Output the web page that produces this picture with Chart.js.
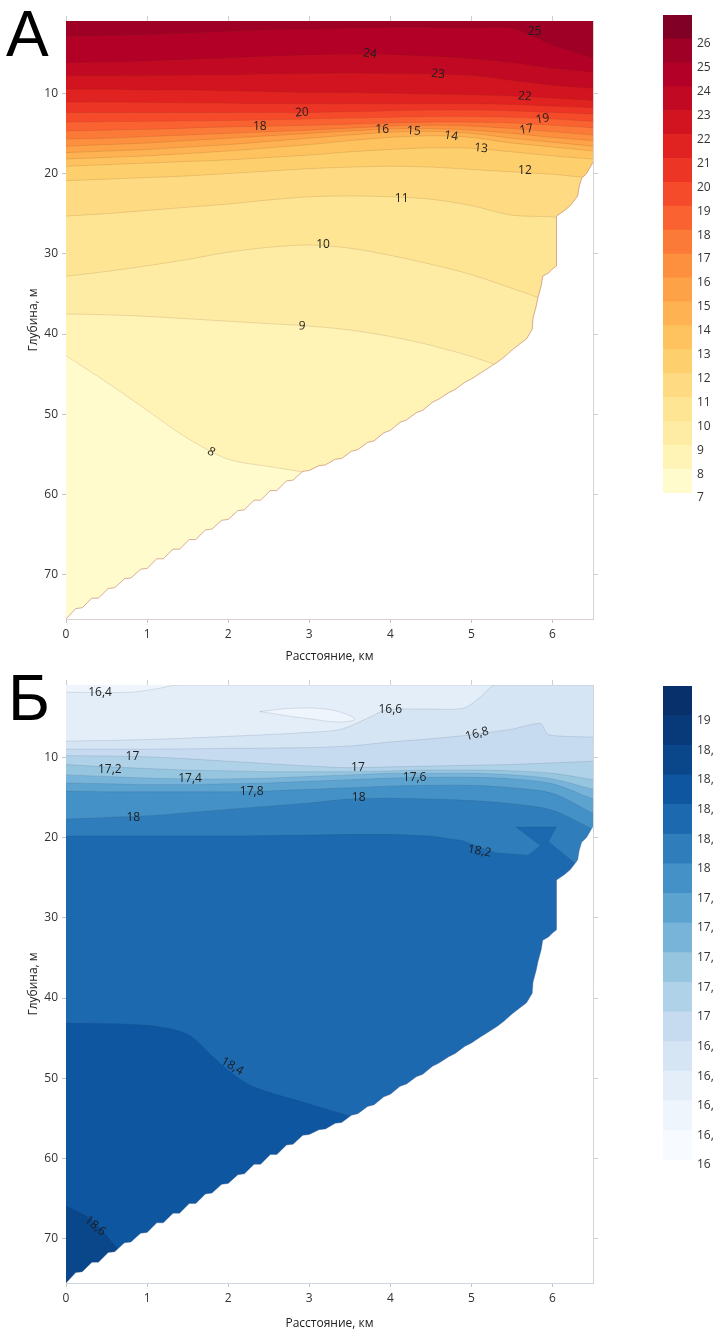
<!DOCTYPE html>
<html>
<head>
<meta charset="utf-8">
<script src="https://cdn.jsdelivr.net/npm/chart.js@4.4.1/dist/chart.umd.min.js"></script>
<style>
html, body { margin: 0; padding: 0; background: #fff; }
.wrap { position: relative; width: 714px; height: 1331px; overflow: hidden; background: #fff; }
canvas { position: absolute; }
.letter { position: absolute; font-family: "Liberation Sans", Arial, sans-serif; font-size: 64px; line-height: 64px; color: #000; }
</style>
</head>
<body>
<div class="wrap">
  <canvas id="plotA" width="640" height="664" style="left:0px;top:0px"></canvas>
  <canvas id="barA" width="120" height="520" style="left:640px;top:0px"></canvas>
  <canvas id="plotB" width="640" height="667" style="left:0px;top:664px"></canvas>
  <canvas id="barB" width="120" height="520" style="left:640px;top:664px"></canvas>
  <div class="letter" style="left:6px;top:2px">А</div>
  <div class="letter" style="left:8px;top:666px">Б</div>
</div>
<script>
// ---- shared axes ----
const DEPTH_MIN = 1;
const DEPTH_MAX = 75.5;
const distKm = [0, 0.5, 1, 1.5, 2, 2.5, 3, 3.5, 4, 4.5, 5, 5.5, 6, 6.5];
const xTicks = [0, 1, 2, 3, 4, 5, 6];
const depthTicks = [10, 20, 30, 40, 50, 60, 70];

// bottom profile (distance, depth)
const bottomX = [0,0.12,0.2,0.32,0.4,0.52,0.6,0.72,0.8,0.92,
  1.0,1.12,1.2,1.32,1.4,1.52,1.6,1.72,1.8,1.92,
  2.0,2.12,2.2,2.32,2.4,2.52,2.6,2.72,2.8,2.92,
  3.0,3.12,3.2,3.32,3.4,3.52,3.6,3.72,3.8,3.92,
  4.0,4.12,4.2,4.32,4.4,4.52,4.6,4.72,4.8,4.92,
  5.0,5.12,5.2,5.32,5.4,5.5,5.6,5.68,5.75,5.76,
  5.8,5.82,5.86,5.88,5.95,6.0,6.05,6.05,6.15,6.22,
  6.28,6.31,6.33,6.36,6.42,6.5];
const bottomDepth = [75.5,74.2,74.1,72.9,72.9,71.7,71.6,70.5,70.4,69.3,
  69.2,68.0,68.0,66.8,66.8,65.6,65.6,64.4,64.3,63.2,
  63.1,62.0,61.9,60.7,60.7,59.5,59.5,58.3,58.2,57.1,
  57.0,56.4,56.3,55.6,55.5,54.6,54.4,53.5,53.3,52.3,
  52.0,51.0,50.7,49.8,49.5,48.5,48.1,47.3,46.9,46.0,
  45.6,44.8,44.3,43.5,42.9,42.0,41.2,40.6,39.4,38.0,
  36.5,35.5,34.0,32.8,32.4,31.9,31.5,25.3,24.6,24.0,
  23.2,22.8,21.6,20.6,20.0,18.6];

// ---- panel A: temperature ----
const bandsA = [7,8,9,10,11,12,13,14,15,16,17,18,19,20,21,22,23,24,25,26];
const colorsA = ['#fffbcc','#fff3b6','#feeca4','#fee594','#fedb82','#fecf6d','#fec35f','#feb252','#fda247','#fd903f',
                 '#fc7a38','#fb6231','#f64b2b','#ec3525','#e02220','#d1141f','#c20923','#b20026','#9e0026','#800026'];
const ticksBarA = [7,8,9,10,11,12,13,14,15,16,17,18,19,20,21,22,23,24,25,26];
const levelsA = [25,24,23,22,21,20,19,18,17,16,15,14,13,12,11,10,9,8];
const isoDepthA = [
  [2.9,2.8,2.7,2.5,2.3,2.1,2.0,1.9,1.8,1.8,1.9,1.9,4.0,5.6],
  [6.2,6.1,6.0,5.8,5.6,5.4,5.25,5.15,5.2,5.4,5.7,6.2,6.9,7.4],
  [7.8,7.8,7.8,7.75,7.7,7.6,7.55,7.5,7.55,7.6,7.8,8.4,9.0,9.4],
  [9.5,9.5,9.6,9.6,9.7,9.8,9.9,9.95,10.0,10.1,10.2,10.35,10.6,10.9],
  [11.1,11.1,11.15,11.2,11.25,11.3,11.3,11.3,11.3,11.3,11.3,11.4,11.6,11.8],
  [12.4,12.4,12.4,12.4,12.4,12.4,12.4,12.3,12.2,12.1,12.1,12.2,12.4,12.6],
  [13.6,13.55,13.5,13.45,13.4,13.3,13.2,13.1,13.0,12.9,12.9,13.0,13.2,13.5],
  [14.7,14.6,14.5,14.35,14.2,14.1,14.0,13.85,13.7,13.6,13.6,13.7,14.0,14.3],
  [15.7,15.6,15.4,15.2,15.0,14.8,14.6,14.35,14.1,14.0,14.1,14.4,14.8,15.2],
  [16.6,16.4,16.2,15.9,15.6,15.3,15.0,14.7,14.45,14.4,14.6,15.0,15.5,15.9],
  [17.4,17.2,17.0,16.7,16.4,16.0,15.6,15.2,14.85,14.75,15.0,15.6,16.1,16.6],
  [18.2,18.0,17.8,17.5,17.2,16.8,16.4,15.9,15.5,15.3,15.5,16.2,16.7,17.2],
  [19.1,18.9,18.7,18.5,18.3,18.0,17.7,17.3,17.0,16.8,16.85,17.3,17.8,18.2],
  [20.9,20.7,20.5,20.3,20.0,19.7,19.4,19.2,19.1,19.2,19.5,19.8,20.1,20.6],
  [25.3,25.0,24.6,24.2,23.8,23.3,22.9,22.8,22.9,23.2,24.0,25.2,25.4,26.0],
  [32.8,32.2,31.5,30.7,29.8,29.2,28.9,29.3,30.2,31.3,32.6,34.3,36.0,37.0],
  [37.5,37.6,37.8,38.1,38.4,38.7,39.0,39.5,40.3,41.4,42.8,44.5,46.0,48.0],
  [42.7,46.0,49.5,53.0,55.6,56.5,57.3,58.0,60.0,62.0,64.0,66.0,68.0,70.0]
];
// [text, distance, depth, rotation deg]
const labelsA = [
  ['25',5.78,2.3,0], ['24',3.75,5.1,8], ['23',4.59,7.6,5], ['22',5.66,10.4,5],
  ['20',2.91,12.4,-5], ['18',2.39,14.1,0], ['19',5.88,13.2,-10], ['17',5.68,14.5,-10],
  ['16',3.9,14.5,0], ['15',4.29,14.7,3], ['14',4.75,15.35,8], ['13',5.12,16.85,5],
  ['12',5.66,19.6,0], ['11',4.14,23.1,0], ['10',3.17,28.9,0], ['9',2.91,39.0,5], ['8',1.79,54.7,30]
];

// ---- panel B ----
const bandsB = [16,16.2,16.4,16.6,16.8,17,17.2,17.4,17.6,17.8,18,18.2,18.4,18.6,18.8,19];
const colorsB = ['#f7fbff','#eef5fc','#e3eef8','#d5e5f4','#c6dbef','#b0d2e8','#95c5df','#78b4d9',
                 '#5ca3cf','#4391c6','#2f7ebb','#1c69af','#0e57a0','#09468a','#083a79','#08306b'];
const ticksBarB = [16,16.2,16.4,16.6,16.8,17,17.2,17.4,17.6,17.8,18,18.2,18.4,18.6,18.8,19];
const levelsB = [16.4,16.6,16.8,17,17.2,17.4,17.6,17.8,18,18.2,18.4,18.6];
const iso164 = [[0,1.9],[0.8,1.9],[1.1,1.5],[1.4,1],[6.5,1]];
const iso166 = [[0,8.0],[1,7.8],[2,7.4],[3,6.9],[3.4,6.5],[3.75,5.0],[3.95,4.1],[4.5,4.0],[4.9,3.9],[5.1,2.6],[5.3,1],[6.5,1]];
const iso168 = [[0,9.0],[1,9.0],[2,8.9],[3,8.8],[3.5,8.6],[4,8.1],[4.5,7.7],[5,7.2],[5.5,6.5],[5.85,5.8],[5.95,7.2],[6.5,7.5]];
const iso170 = [9.8,9.85,9.95,10.2,10.5,10.8,11.1,11.3,11.2,11.1,11.0,10.9,10.7,10.5];
const iso172 = [10.9,11.2,11.4,11.6,11.7,11.8,11.8,11.8,11.7,11.6,11.6,11.7,12.0,12.8];
const iso174 = [12.2,12.4,12.6,12.7,12.7,12.6,12.4,12.2,12.0,12.0,12.0,12.2,12.7,14.0];
const iso176 = [13.2,13.3,13.4,13.4,13.3,13.2,13.0,12.8,12.6,12.5,12.5,12.7,13.3,15.2];
const iso178 = [14.2,14.3,14.3,14.3,14.3,14.2,14.0,13.8,13.6,13.5,13.5,13.8,14.5,17.0];
const iso180 = [17.7,17.5,17.3,16.9,16.5,16.1,15.7,15.2,15.1,15.2,15.4,15.8,16.6,19.0];
const iso182 = [[0,19.8],[1,19.8],[2,19.8],[3,19.7],[3.5,19.6],[4,19.6],[4.5,19.8],[4.9,20.4],[5.1,21.2],[5.3,21.9],
                [5.7,22.2],[5.85,21.0],[5.55,18.7],[6.05,18.7],[5.95,20.5],[6.25,23.0],[6.5,25]];
const iso184 = [[0,43.1],[1,43.4],[1.5,44.5],[1.8,47.2],[2,49],[2.3,51],[2.9,52.9],[3.5,54.7],[4,56],[5,58]];
const iso186 = [[0,65.9],[0.3,67.5],[0.62,71],[0.8,73],[1,75.5]];
const lensB = [[2.39,4.3],[2.8,3.9],[3.2,4.0],[3.45,4.6],[3.56,5.3],[3.35,5.6],[3.0,5.2],[2.7,4.8],[2.39,4.3]];
const labelsB = [
  ['16,4',0.42,1.95,0], ['16,6',4.0,4.0,0], ['16,8',5.07,7.1,-15], ['17',0.82,9.9,0],
  ['17,2',0.54,11.5,0], ['17,4',1.53,12.7,0], ['17,8',2.29,14.3,0], ['18',0.83,17.5,0],
  ['17',3.6,11.3,0], ['17,6',4.3,12.5,0], ['18',3.61,15.0,0], ['18,2',5.1,21.7,10],
  ['18,4',2.05,48.5,30], ['18,6',0.36,68.4,40]
];

Chart.defaults.font.family = '"Open Sans", "DejaVu Sans", sans-serif';
Chart.defaults.font.size = 12;
Chart.defaults.color = '#333';

function onGrid(depths) { return distKm.map((x, j) => ({x: x, y: depths[j]})); }
function fromPairs(pairs) { return pairs.map(p => ({x: p[0], y: p[1]})); }
function commaFmt(v) { return String(Math.round(v * 10) / 10).replace('.', ','); }

const contourLabels = {
  id: 'contourLabels',
  afterDatasetsDraw(chart, args, opts) {
    const ctx = chart.ctx;
    const xs = chart.scales.x, ys = chart.scales.y;
    ctx.save();
    ctx.font = '12px "Open Sans", sans-serif';
    ctx.fillStyle = opts.color;
    ctx.textAlign = 'center';
    ctx.textBaseline = 'middle';
    opts.items.forEach(([t, dx, dd, rot]) => {
      ctx.save();
      ctx.translate(xs.getPixelForValue(dx), ys.getPixelForValue(dd));
      ctx.rotate(rot * Math.PI / 180);
      ctx.fillText(t, 0, 0);
      ctx.restore();
    });
    ctx.restore();
  }
};

function buildPanel(id, cfg) {
  const datasets = [];
  datasets.push({ data: [{x: 0, y: DEPTH_MIN}, {x: 6.5, y: DEPTH_MIN}], backgroundColor: cfg.baseColor,
                  borderWidth: 0, fill: {value: DEPTH_MAX}, order: 100 });
  cfg.isolines.forEach((pts, i) => {
    datasets.push({ data: pts, backgroundColor: cfg.bandColors[i], borderColor: cfg.lineColor, borderWidth: 0.8,
                    fill: {value: DEPTH_MAX}, tension: cfg.tension[i], order: 99 - i });
  });
  (cfg.shapes || []).forEach(s => {
    datasets.push({ data: s.pts, backgroundColor: s.color, borderColor: cfg.lineColor, borderWidth: 0.8,
                    fill: 'shape', tension: 0.4, order: 2 });
  });
  datasets.push({ data: bottomX.map((x, i) => ({x: x, y: bottomDepth[i]})), backgroundColor: '#ffffff',
                  borderColor: cfg.bedColor, borderWidth: 1, fill: {value: DEPTH_MAX}, tension: 0, order: 1 });

  const tickGrid = { drawOnChartArea: false, tickLength: 4, color: '#c4c4c4' };
  return new Chart(document.getElementById(id), {
    type: 'line',
    data: { datasets: datasets },
    options: {
      responsive: false, animation: false, devicePixelRatio: 1,
      layout: { padding: 0 },
      elements: { point: { radius: 0 } },
      plugins: { legend: { display: false }, tooltip: { enabled: false },
                 contourLabels: { items: cfg.labels, color: '#1e1e1e' } },
      scales: {
        x: { type: 'linear', position: 'bottom', min: 0, max: 6.5, z: 1,
             afterBuildTicks: s => { s.ticks = xTicks.map(v => ({value: v})); },
             afterFit: s => { s.height = cfg.bottomH; },
             ticks: { padding: 4, color: '#333', maxRotation: 0, autoSkip: false },
             grid: tickGrid, border: { color: cfg.frameColor },
             title: { display: true, text: 'Расстояние, км', color: '#222', padding: { top: 0, bottom: 0 } } },
        xTop: { type: 'linear', position: 'top', min: 0, max: 6.5, z: 1,
             afterBuildTicks: s => { s.ticks = xTicks.map(v => ({value: v})); },
             afterFit: s => { s.height = 21; },
             ticks: { display: false },
             grid: { drawOnChartArea: false, tickLength: 5, color: '#d0d0d0' }, border: { color: cfg.frameColor } },
        y: { type: 'linear', position: 'left', reverse: true, min: DEPTH_MIN, max: DEPTH_MAX, z: 1,
             afterBuildTicks: s => { s.ticks = depthTicks.map(v => ({value: v})); },
             afterFit: s => { s.width = 66; },
             ticks: { padding: 4, color: '#333', autoSkip: false },
             grid: tickGrid, border: { display: false },
             title: { display: true, text: 'Глубина, м', color: '#222', padding: { top: 26, bottom: 0 } } },
        yRight: { type: 'linear', position: 'right', reverse: true, min: DEPTH_MIN, max: DEPTH_MAX, z: 1,
             afterBuildTicks: s => { s.ticks = depthTicks.map(v => ({value: v})); },
             afterFit: s => { s.width = 47; },
             ticks: { display: false },
             grid: { drawOnChartArea: false, tickLength: 5, color: '#d0d0d0' }, border: { color: cfg.frameColor } }
      }
    },
    plugins: [contourLabels]
  });
}

function buildColorbar(id, bands, step, colors, ticks, padTop, padBottom, fmt) {
  return new Chart(document.getElementById(id), {
    type: 'bar',
    data: {
      labels: ['c'],
      datasets: bands.map((lo, i) => ({ data: [[lo, lo + step]], backgroundColor: colors[i], borderWidth: 0,
                                         grouped: false, barPercentage: 1, categoryPercentage: 1 }))
    },
    options: {
      responsive: false, animation: false, devicePixelRatio: 1,
      layout: { padding: { left: 23, top: padTop, bottom: padBottom, right: 0 } },
      plugins: { legend: { display: false }, tooltip: { enabled: false } },
      scales: {
        x: { display: false },
        y: { position: 'right', min: bands[0], max: bands[bands.length - 1] + step,
             afterBuildTicks: s => { s.ticks = ticks.map(v => ({value: v})); },
             afterFit: s => { s.width = 68; },
             grid: { display: false, drawTicks: false }, border: { display: false },
             ticks: { padding: 5, labelOffset: 5, color: '#333', autoSkip: false, callback: fmt } }
      }
    }
  });
}

// panel A
buildPanel('plotA', {
  isolines: levelsA.map((lv, i) => onGrid(isoDepthA[i])),
  bandColors: levelsA.map(lv => colorsA[bandsA.indexOf(lv - 1)]),
  tension: levelsA.map(() => 0.3),
  baseColor: colorsA[bandsA.indexOf(25)],
  lineColor: 'rgba(110,50,20,0.18)',
  bedColor: 'rgba(190,120,90,0.6)',
  frameColor: '#dccfcf',
  labels: labelsA,
  bottomH: 45
});
buildColorbar('barA', bandsA, 1, colorsA, ticksBarA, 15, 27, v => String(v));

// panel B
const isolinesB = [fromPairs(iso164), fromPairs(iso166), fromPairs(iso168), onGrid(iso170), onGrid(iso172),
                   onGrid(iso174), onGrid(iso176), onGrid(iso178), onGrid(iso180), fromPairs(iso182),
                   fromPairs(iso184), fromPairs(iso186)];
buildPanel('plotB', {
  isolines: isolinesB,
  bandColors: levelsB.map(lv => colorsB[Math.round((lv - 16) / 0.2)]),
  tension: [0.3, 0.3, 0.2, 0.3, 0.3, 0.3, 0.3, 0.3, 0.3, 0, 0.3, 0.3],
  shapes: [{ pts: fromPairs(lensB), color: colorsB[1] }],
  baseColor: colorsB[1],
  lineColor: 'rgba(30,50,90,0.16)',
  bedColor: 'rgba(60,90,140,0.4)',
  frameColor: '#cfd5dd',
  labels: labelsB,
  bottomH: 48
});
buildColorbar('barB', bandsB, 0.2, colorsB, ticksBarB, 22, 24, commaFmt);
</script>
</body>
</html>
